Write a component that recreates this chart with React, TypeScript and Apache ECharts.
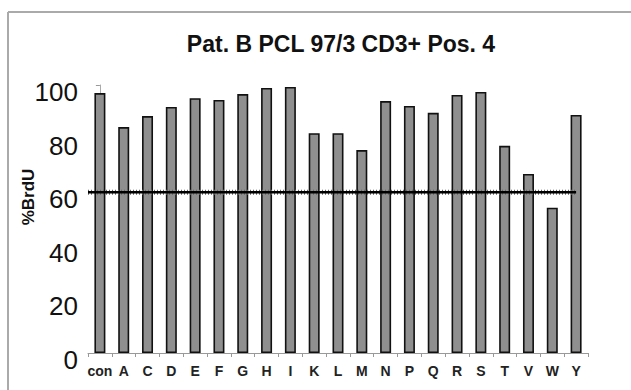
import React, { useEffect, useRef } from "react";
import * as echarts from "echarts";

const categories = ["con", "A", "C", "D", "E", "F", "G", "H", "I", "K", "L", "M", "N", "P", "Q", "R", "S", "T", "V", "W", "Y"];
const brduValues = [97, 84.3, 88.4, 91.8, 95.1, 94.4, 96.6, 98.9, 99.3, 82, 82, 75.7, 94, 92.2, 89.6, 96.3, 97.4, 77.3, 66.8, 54.2, 88.8];
const thresholdValue = 60;
const thresholdSpan = [-0.5, 20];
const titleText = "Pat. B PCL 97/3 CD3+ Pos. 4";
const yName = "%BrdU";

export default function App() {
  const ref = useRef<HTMLDivElement>(null);
  useEffect(() => {
    if (!ref.current) return;
    const chart = echarts.init(ref.current, null, { renderer: "svg" });
    chart.setOption({
      animation: false,
      backgroundColor: "#fff",
      title: {
        text: titleText,
        left: 336,
        textAlign: "center",
        top: 27,
        textStyle: { fontFamily: "Liberation Sans", fontSize: 23, fontWeight: "bold", color: "#111" },
      },
      grid: { left: 88, right: 43, top: 85, bottom: 37, containLabel: false },
      xAxis: [
        {
          type: "category",
          data: categories,
          axisLine: { show: true, lineStyle: { color: "#999", width: 1 } },
          axisTick: { show: true, alignWithLabel: false, length: 4, lineStyle: { color: "#999" } },
          axisLabel: { interval: 0, fontFamily: "Liberation Sans", fontSize: 14, fontWeight: "bold", color: "#222", margin: 11 },
          splitLine: { show: false },
        },
        {
          type: "value",
          min: -0.5,
          max: 20.5,
          show: false,
        },
      ],
      yAxis: {
        type: "value",
        min: 0,
        max: 100,
        interval: 20,
        axisLine: { show: true, lineStyle: { color: "#aaa", width: 1 } },
        axisTick: { show: true, length: 4, lineStyle: { color: "#999" } },
        axisLabel: {
          margin: 10,
          formatter: (v: number) => "{a|" + v + "}",
          rich: {
            a: { fontFamily: "Liberation Sans", fontSize: 26, color: "#111", padding: [14, 0, 0, 0] },
          },
        },
        splitLine: { show: false },
      },
      graphic: [
        { type: "line", shape: { x1: 8, y1: 12, x2: 631, y2: 12 }, style: { stroke: "#aaa", lineWidth: 2 } },
        { type: "line", shape: { x1: 8, y1: 12, x2: 8, y2: 390 }, style: { stroke: "#aaa", lineWidth: 2 } },
        {
          type: "text",
          x: 28,
          y: 197,
          rotation: Math.PI / 2,
          style: { text: yName, fontFamily: "Liberation Sans", fontSize: 17, fontWeight: "bold", fill: "#111", align: "center", verticalAlign: "middle" },
        },
      ],
      series: [
        {
          type: "bar",
          data: brduValues,
          barWidth: 11,
          itemStyle: { color: "#8f8f8f", borderColor: "#111", borderWidth: 1.6 },
          xAxisIndex: 0,
        },
        {
          type: "line",
          xAxisIndex: 1,
          data: thresholdSpan.map((x) => [x, thresholdValue]),
          symbol: "none",
          lineStyle: { color: "#666", width: 5, type: [1, 2] },
          z: 3,
        },
        {
          type: "line",
          xAxisIndex: 1,
          data: thresholdSpan.map((x) => [x, thresholdValue]),
          symbol: "none",
          lineStyle: { color: "#000", width: 2.5 },
          z: 4,
        },
      ],
    });
    return () => chart.dispose();
  }, []);
  return <div ref={ref} style={{ width: 631, height: 390, position: "absolute", left: 0, top: 0 }} />;
}
